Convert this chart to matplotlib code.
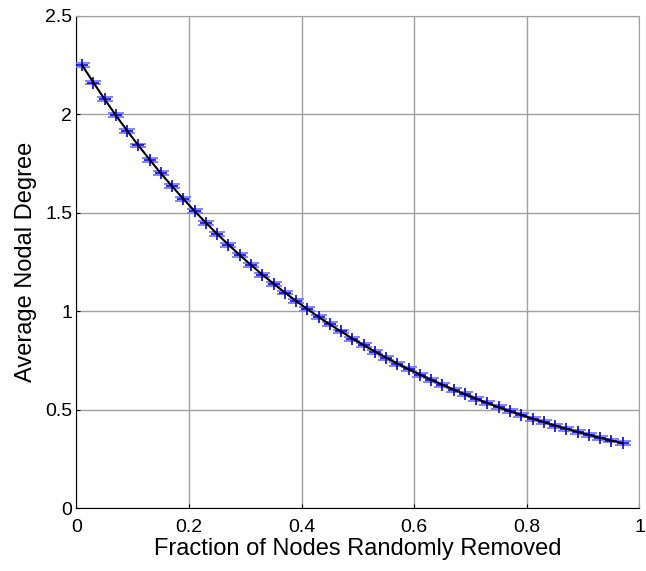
import matplotlib
matplotlib.use('Agg')
import matplotlib.pyplot as plt
import numpy as np

plt.rcParams['font.family'] = ['Liberation Sans', 'DejaVu Sans']

# fraction of nodes removed
frac = [0.01, 0.03, 0.05, 0.07, 0.09, 0.11, 0.13, 0.15, 0.17, 0.19,
        0.21, 0.23, 0.25, 0.27, 0.29, 0.31, 0.33, 0.35, 0.37, 0.39,
        0.41, 0.43, 0.45, 0.47, 0.49, 0.51, 0.53, 0.55, 0.57, 0.59,
        0.61, 0.63, 0.65, 0.67, 0.69, 0.71, 0.73, 0.75, 0.77, 0.79,
        0.81, 0.83, 0.85, 0.87, 0.89, 0.91, 0.93, 0.95, 0.97]
# average nodal degree
avg_deg = [2.250, 2.162, 2.077, 1.995, 1.917, 1.842, 1.770, 1.700, 1.634, 1.570,
           1.508, 1.449, 1.392, 1.338, 1.285, 1.235, 1.186, 1.140, 1.095, 1.052,
           1.011, 0.971, 0.933, 0.897, 0.861, 0.828, 0.795, 0.764, 0.734, 0.705,
           0.678, 0.651, 0.626, 0.601, 0.578, 0.555, 0.533, 0.512, 0.492, 0.473,
           0.454, 0.437, 0.419, 0.403, 0.387, 0.372, 0.357, 0.343, 0.330]
err = [0.010] * len(frac)

fig = plt.figure(figsize=(6.46, 5.71), dpi=100)
ax = fig.add_axes([0.1184, 0.1103, 0.8715, 0.8617])

ax.errorbar(frac, avg_deg, yerr=err, fmt='none', ecolor='#7878ff',
            elinewidth=1, capsize=5.5, capthick=1.3, zorder=3)
ax.plot(frac, avg_deg, '+', color='#0000ff', ms=8, mew=1.2, zorder=4)
ax.plot(frac, avg_deg, '-', color='k', lw=1.5, zorder=5)

ax.set_xlim(0, 1)
ax.set_ylim(0, 2.5)
ax.set_xticks(np.arange(0, 1.01, 0.2))
ax.set_xticklabels(['0', '0.2', '0.4', '0.6', '0.8', '1'])
ax.set_yticks(np.arange(0, 2.51, 0.5))
ax.set_yticklabels(['0', '0.5', '1', '1.5', '2', '2.5'])
ax.tick_params(direction='in', length=3, labelsize=14, top=False, right=False)
ax.tick_params(axis='x', pad=8)
ax.tick_params(axis='y', pad=3)
ax.grid(True, color='#a0a0a0', linestyle='-', linewidth=1)
for s in ['top', 'right']:
    ax.spines[s].set_color('#a0a0a0')

ax.set_xlabel('Fraction of Nodes Randomly Removed', fontsize=17, labelpad=1)
ax.set_ylabel('Average Nodal Degree', fontsize=17, labelpad=6)

plt.savefig('out.png', dpi=100)
